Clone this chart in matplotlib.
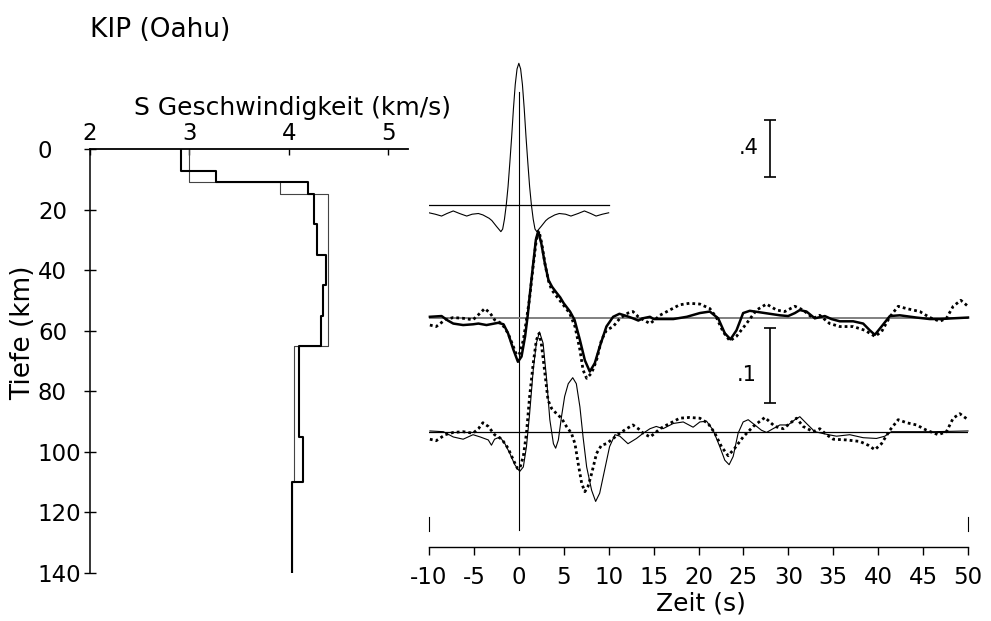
import matplotlib
matplotlib.use("Agg")
import matplotlib.pyplot as plt

plt.rcParams['font.family'] = ['DejaVu Sans']
plt.rcParams['axes.unicode_minus'] = False

# S velocity models: layer tops (km) and Vs (km/s)
model1_top = [0, 7.2, 10.8, 14.9, 24.9, 35, 45, 55, 65, 95, 110]
model1_vs = [2.92, 3.27, 4.19, 4.25, 4.28, 4.37, 4.34, 4.32, 4.10, 4.14, 4.03]
model2_top = [0, 10.8, 14.9, 65, 110]
model2_vs = [3.00, 3.91, 4.39, 4.05, 4.03]
max_depth = 140
vel_ticks = [2, 3, 4, 5]
depth_ticks = [0, 20, 40, 60, 80, 100, 120, 140]

# Gaussian pulse (input wavelet)
gauss_t = [-10, -9.3, -8.6, -8.0, -7.3, -6.6, -5.8, -5.2, -4.5, -4.0,
           -3.3, -3.0, -2.5, -2.0, -1.8, -1.6, -1.4, -1.2, -1.0, -0.8,
           -0.6, -0.4, -0.2, 0, 0.2, 0.4, 0.6, 0.8, 1.0, 1.2,
           1.4, 1.6, 1.8, 2.0, 2.5, 3.0, 3.3, 4.0, 4.5, 5.2,
           5.8, 6.6, 7.3, 8.0, 8.6, 9.3, 10]
gauss_amp = [-0.055, -0.065, -0.078, -0.06, -0.042, -0.06, -0.078, -0.065, -0.06, -0.07,
             -0.094, -0.11, -0.15, -0.188, -0.17, -0.10, 0.0, 0.13, 0.30, 0.48,
             0.68, 0.85, 0.96, 1.0, 0.96, 0.85, 0.68, 0.48, 0.30, 0.13,
             0.0, -0.10, -0.17, -0.188, -0.15, -0.11, -0.094, -0.07, -0.06, -0.065,
             -0.078, -0.06, -0.042, -0.06, -0.078, -0.065, -0.055]

# synthetic receiver function, model 1 (thick line)
syn1_t = [-9.9, -8.6, -7.9, -7.3, -6.2, -5.1, -4.5, -3.6, -2.3, -1.7,
          -1.2, -0.6, -0.1, 0.3, 0.7, 1.0, 1.2, 1.6, 1.9, 2.15,
          2.5, 2.9, 3.3, 3.7, 4.2, 4.6, 5.0, 5.7, 6.2, 6.8,
          7.35, 7.9, 8.45, 9.0, 9.75, 10.5, 11.2, 12.0, 12.7, 13.3,
          13.8, 14.6, 15.0, 15.7, 17.2, 18.7, 20.15, 21.26, 22.19, 22.93,
          23.56, 24.23, 24.97, 25.71, 26.83, 27.94, 29.06, 29.98, 30.73, 31.28,
          32.02, 32.95, 34.06, 34.8, 35.73, 37.22, 38.33, 39.07, 39.63, 40.37,
          41.3, 42.41, 44.27, 45.75, 46.86, 48.35, 50.0]
syn1_amp = [0.002, 0.003, -0.003, -0.007, -0.009, -0.008, -0.007, -0.009, -0.006, -0.008,
            -0.020, -0.042, -0.058, -0.051, -0.024, 0.005, 0.029, 0.073, 0.105, 0.116,
            0.100, 0.073, 0.051, 0.042, 0.034, 0.028, 0.020, 0.009, -0.002, -0.029,
            -0.056, -0.071, -0.060, -0.038, -0.011, 0.002, 0.006, 0.003, 0.0, -0.003,
            0.0, 0.002, -0.001, -0.001, -0.001, 0.002, 0.007, 0.009, 0.0, -0.020,
            -0.028, -0.016, 0.007, 0.010, 0.008, 0.006, 0.004, 0.003, 0.007, 0.011,
            0.009, 0.0, 0.003, -0.001, -0.004, -0.004, -0.007, -0.016, -0.022, -0.011,
            0.003, 0.004, 0.001, -0.001, -0.001, 0.0, 0.001]

# observed receiver function, upper pair (dotted)
obs1_t = [-9.9, -9.2, -8.2, -7.3, -6.2, -5.1, -4.3, -3.8, -3.2, -2.7,
          -1.9, -1.2, -0.6, -0.25, 0.1, 0.5, 0.85, 1.2, 1.6, 1.95,
          2.25, 2.55, 2.95, 3.3, 3.65, 4.55, 5.65, 6.25, 6.8, 7.15,
          7.55, 8.1, 8.65, 9.2, 9.75, 10.5, 11.25, 12.15, 12.7, 13.3,
          13.85, 14.6, 15.15, 15.7, 16.8, 17.9, 19.0, 20.15, 21.26, 22.0,
          22.74, 23.49, 24.23, 25.34, 26.46, 27.57, 28.69, 29.6, 30.73, 31.65,
          32.76, 33.5, 34.6, 35.73, 37.22, 38.52, 39.63, 40.37, 41.3, 42.23,
          43.15, 44.64, 45.75, 46.86, 47.6, 48.35, 49.2, 50.0]
obs1_amp = [-0.009, -0.011, -0.002, 0.001, 0.0, -0.002, 0.007, 0.013, 0.007, -0.002,
            -0.007, -0.020, -0.038, -0.049, -0.047, -0.029, -0.002, 0.027, 0.070, 0.105,
            0.116, 0.100, 0.070, 0.050, 0.038, 0.024, 0.007, -0.011, -0.042, -0.069,
            -0.080, -0.073, -0.056, -0.029, -0.016, -0.011, 0.0, 0.007, 0.009, 0.002,
            -0.002, -0.007, -0.002, 0.004, 0.011, 0.018, 0.020, 0.019, 0.013, 0.001,
            -0.018, -0.030, -0.024, -0.007, 0.011, 0.019, 0.011, 0.009, 0.016, 0.011,
            0.0, 0.004, -0.007, -0.011, -0.011, -0.016, -0.024, -0.018, 0.002, 0.016,
            0.013, 0.009, 0.001, -0.004, 0.0, 0.016, 0.024, 0.016]

# synthetic receiver function, model 2 (thin line)
syn2_t = [-9.9, -8.4, -7.3, -6.2, -5.1, -4.3, -3.4, -3.05, -2.7, -2.1,
          -1.55, -1.0, -0.45, 0.1, 0.5, 0.85, 1.2, 1.6, 1.95, 2.3,
          2.7, 3.1, 3.45, 3.85, 4.1, 4.4, 4.75, 5.1, 5.5, 6.0,
          6.4, 6.8, 7.15, 7.55, 8.1, 8.55, 9.0, 9.55, 10.1, 10.7,
          11.25, 12.15, 13.1, 13.85, 14.6, 15.3, 16.05, 17.2, 18.3, 19.4,
          20.15, 20.9, 21.63, 22.37, 22.93, 23.41, 23.86, 24.41, 24.97, 25.53,
          26.27, 27.0, 27.57, 28.3, 29.06, 29.98, 30.73, 31.28, 32.02, 32.95,
          34.06, 35.36, 36.84, 38.33, 39.81, 40.74, 41.48, 43.15, 46.1, 50.0]
syn2_amp = [0.001, 0.0, -0.007, -0.010, -0.004, -0.007, -0.011, -0.018, -0.010, -0.007,
            -0.016, -0.029, -0.044, -0.053, -0.047, -0.020, 0.024, 0.082, 0.118, 0.133,
            0.118, 0.069, 0.016, -0.016, -0.022, -0.011, 0.020, 0.047, 0.064, 0.072,
            0.064, 0.033, -0.007, -0.047, -0.078, -0.093, -0.082, -0.051, -0.020, -0.004,
            -0.006, -0.016, -0.009, -0.002, 0.004, 0.007, 0.004, 0.011, 0.013, 0.006,
            0.013, 0.014, 0.002, -0.020, -0.038, -0.044, -0.033, -0.002, 0.013, 0.016,
            0.009, 0.002, -0.001, 0.004, 0.009, 0.009, 0.016, 0.020, 0.011, 0.0,
            -0.003, -0.006, -0.004, -0.008, -0.009, -0.006, 0.0, 0.0, 0.0, 0.001]

# observed receiver function, lower pair (dotted)
obs2_t = [-9.9, -9.2, -8.2, -7.3, -6.2, -5.1, -4.5, -4.0, -3.4, -2.7,
          -1.9, -1.2, -0.6, -0.15, 0.1, 0.5, 0.85, 1.2, 1.6, 1.95,
          2.25, 2.5, 2.9, 3.25, 3.65, 4.2, 4.75, 5.3, 5.85, 6.25,
          6.6, 7.0, 7.35, 7.7, 8.1, 8.65, 9.2, 9.75, 10.5, 11.25,
          12.0, 12.7, 13.3, 13.85, 14.6, 15.15, 15.7, 16.8, 17.9, 19.0,
          20.15, 21.07, 21.82, 22.56, 23.3, 24.04, 24.97, 26.09, 27.39, 28.5,
          29.43, 30.17, 30.91, 31.65, 32.76, 33.5, 34.25, 35.0, 36.47, 37.96,
          38.89, 39.63, 40.37, 41.3, 42.23, 43.15, 44.27, 45.38, 46.68, 47.6,
          48.35, 49.09, 50.0]
obs2_amp = [-0.010, -0.012, -0.004, -0.001, 0.0, -0.002, 0.004, 0.012, 0.007, -0.004,
            -0.010, -0.022, -0.038, -0.049, -0.049, -0.033, -0.002, 0.047, 0.091, 0.122,
            0.131, 0.118, 0.078, 0.042, 0.031, 0.024, 0.018, 0.007, -0.002, -0.016,
            -0.042, -0.069, -0.080, -0.073, -0.056, -0.029, -0.018, -0.016, -0.009, -0.002,
            0.004, 0.009, 0.004, -0.002, -0.007, -0.002, 0.004, 0.011, 0.018, 0.019,
            0.018, 0.011, -0.002, -0.020, -0.032, -0.022, -0.007, 0.007, 0.019, 0.007,
            0.004, 0.011, 0.018, 0.007, 0.0, 0.004, -0.004, -0.010, -0.011, -0.013,
            -0.018, -0.024, -0.016, 0.002, 0.016, 0.012, 0.009, 0.002, -0.004, 0.0,
            0.018, 0.024, 0.016]

time_ticks = list(range(-10, 51, 5))
gauss_bar = 0.4
rf_bar = 0.1

W, H = 991, 621


def fx(px):
    return px / W


def fy(py):
    return 1 - py / H


def step_profile(tops, vs, bottom):
    vel, depth = [], []
    for i, v in enumerate(vs):
        z1 = tops[i + 1] if i + 1 < len(tops) else bottom
        vel += [v, v]
        depth += [tops[i], z1]
    return vel, depth


fig = plt.figure(figsize=(W / 100, H / 100), dpi=100)

# ---- velocity profile ----
ax1 = fig.add_axes([fx(90), fy(573), fx(408) - fx(90), (573 - 149) / H])
v1, d1 = step_profile(model1_top, model1_vs, max_depth)
v2, d2 = step_profile(model2_top, model2_vs, max_depth)
ax1.plot(v2, d2, color='#444444', lw=0.8)
ax1.plot(v1, d1, color='black', lw=1.5)
ax1.set_xlim(2, 5.2)
ax1.set_ylim(max_depth, 0)
ax1.xaxis.tick_top()
ax1.set_xticks(vel_ticks)
ax1.set_yticks(depth_ticks)
ax1.tick_params(axis='x', direction='in', length=4, width=1, labelsize=16.5, pad=3)
ax1.tick_params(axis='y', direction='inout', length=8, width=1, labelsize=16.5, pad=33.5)
for lbl in ax1.get_yticklabels():
    lbl.set_horizontalalignment('left')
for s in ['right', 'bottom']:
    ax1.spines[s].set_visible(False)
ax1.spines['top'].set_linewidth(1.3)
ax1.spines['left'].set_linewidth(1.1)

# ---- receiver functions (vertical unit = 1 pixel) ----
ax2 = fig.add_axes([fx(429), fy(547), fx(968) - fx(429), (547 - 40) / H])
ax2.set_xlim(-10, 50)
ax2.set_ylim(547, 40)
gauss_base, base1, base2 = 205, 318.3, 431.7
gauss_scale = 141.7   # pixels per unit amplitude
rf_scale = 750.0

ax2.plot([0, 0], [91.7, 530], color='black', lw=0.8)
ax2.plot([-10, -10], [517, 531], color='black', lw=0.8, clip_on=False)
ax2.plot([50, 50], [517, 531], color='black', lw=0.8, clip_on=False)

ax2.plot([-10, 10], [gauss_base, gauss_base], color='black', lw=0.9)
ax2.plot(gauss_t, [gauss_base - a * gauss_scale for a in gauss_amp], color='black', lw=0.8)

ax2.plot([-10, 50], [base1, base1], color='#808080', lw=1.4)
ax2.plot(syn1_t, [base1 - a * rf_scale for a in syn1_amp], color='black', lw=1.8,
         clip_on=False)
ax2.plot(obs1_t, [base1 - a * rf_scale for a in obs1_amp], color='black', lw=2,
         linestyle=(0, (1, 1.1)), clip_on=False)

ax2.plot([-10, 50], [base2, base2], color='black', lw=0.9)
ax2.plot(syn2_t, [base2 - a * rf_scale for a in syn2_amp], color='black', lw=0.8,
         clip_on=False)
ax2.plot(obs2_t, [base2 - a * rf_scale for a in obs2_amp], color='black', lw=2,
         linestyle=(0, (1, 1.1)), clip_on=False)

# amplitude scale bars
ax2.errorbar(28, 148.3, yerr=gauss_bar * gauss_scale / 2, color='black',
             elinewidth=1.2, capsize=4.2, capthick=1.2)
ax2.errorbar(28, 365.8, yerr=rf_bar * rf_scale / 2, color='black',
             elinewidth=1.2, capsize=4.2, capthick=1.2)
ax2.text(26.7, 148.3, '.4', fontsize=15, ha='right', va='center')
ax2.text(26.5, 375, '.1', fontsize=15, ha='right', va='center')

ax2.set_xticks(time_ticks)
ax2.set_xticklabels([str(t) for t in time_ticks])
ax2.set_yticks([])
ax2.tick_params(axis='x', direction='out', length=5.5, width=1, labelsize=16.5, pad=8)
for s in ['left', 'right', 'top']:
    ax2.spines[s].set_visible(False)
ax2.spines['bottom'].set_linewidth(1)

# ---- labels ----
fig.text(fx(90), fy(37), 'KIP (Oahu)', fontsize=19, ha='left', va='baseline')
fig.text(fx(292.5), fy(115), 'S Geschwindigkeit (km/s)', fontsize=18,
         ha='center', va='baseline')
fig.text(fx(23), fy(333), 'Tiefe (km)', fontsize=19, rotation=90,
         ha='center', va='center')
fig.text(fx(701), fy(604), 'Zeit (s)', fontsize=18, ha='center', va='center')

fig.savefig('out.png', dpi=100)
